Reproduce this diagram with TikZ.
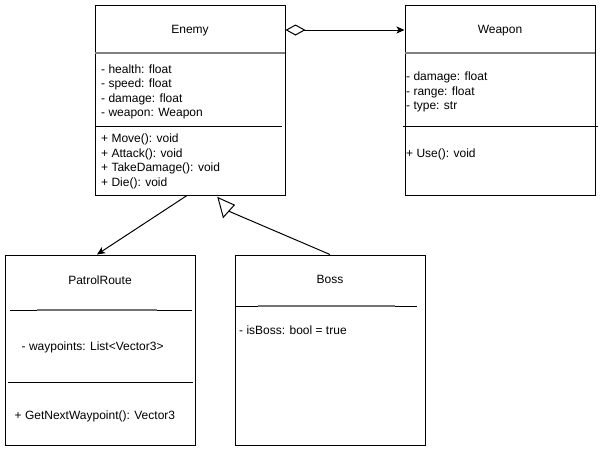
\documentclass[tikz,border=0pt]{standalone}
\usepackage{fontspec}
\setmainfont{Liberation Sans}
\usetikzlibrary{arrows.meta}
\begin{document}
\begin{tikzpicture}[x=1pt,y=-1pt,
  classbox/.style={draw=black, line width=1pt, fill=white, minimum width=190pt, minimum height=190pt, inner sep=0pt},
  title/.style={anchor=base, inner sep=0pt, font=\fontsize{12}{14}\selectfont},
  member/.style={anchor=base west, inner sep=0pt, font=\fontsize{12}{14}\selectfont},
  headline/.style={draw=black!50, line width=1.6pt},
  sepline/.style={draw=black, line width=1pt},
  greyover/.style={draw=black!55, line width=1.3pt},
  conn/.style={draw=black, line width=1pt},
  filledtip/.style={-{Stealth[length=8pt,width=7pt,inset=2pt]}},
  hollowtri/.style={draw=black, line width=1pt, fill=white, line join=miter}
]
\useasboundingbox (0,0) rectangle (603,451);
\fill[white] (0,0) rectangle (603,451);

% boxes
\node[classbox] (enemy) at (190,100) {};
\node[classbox] (weapon) at (500,100) {};
\node[classbox] (patrol) at (100,350) {};
\node[classbox] (boss) at (330,350) {};

% Enemy
\node[title] (enemyT) at (190,33.5) {Enemy};
\draw[headline] (95,53) -- (285,53);
\node[member] (e1) at (101,73) {- health: float};
\node[member] (e2) at (101,87.5) {- speed: float};
\node[member] (e3) at (101,102) {- damage: float};
\node[member] (e4) at (101,116.5) {- weapon: Weapon};
\draw[sepline] (95,126) -- (282,126);
\node[member] (e5) at (101,142.5) {+ Move(): void};
\node[member] (e6) at (101,157) {+ Attack(): void};
\node[member] (e7) at (101,171.5) {+ TakeDamage(): void};
\node[member] (e8) at (101,186) {+ Die(): void};

% Weapon
\node[title] (weaponT) at (500,33.5) {Weapon};
\draw[headline] (405,53) -- (595,53);
\node[member] (w1) at (406,80.5) {- damage: float};
\node[member] (w2) at (406,95) {- range: float};
\node[member] (w3) at (406,109.5) {- type: str};
\draw[sepline] (403,126) -- (598,126);
\node[member] (w4) at (406,157.5) {+ Use(): void};

% PatrolRoute
\node[title] (patrolT) at (100,284) {PatrolRoute};
\draw[sepline] (10,310) -- (192,310);
\draw[greyover] (37,310) -- (157,310);
\node[member] (p1) at (21.5,350) {- waypoints: List<Vector3>};
\draw[sepline] (8,382) -- (193,382);
\node[member] (p2) at (14.5,419) {+ GetNextWaypoint(): Vector3};

% Boss
\node[title] (bossT) at (330,283.5) {Boss};
\draw[sepline] (235,306) -- (417,306);
\draw[greyover] (258,306) -- (395,306);
\node[member] (b1) at (239,334.5) {- isBoss: bool = true};

% connectors
\draw[conn, {Diamond[open,length=20pt,width=11pt]}-{Stealth[length=8pt,width=7pt,inset=2pt]}]
  ([yshift=70pt]enemy.east) -- ([yshift=70pt]weapon.west);
\draw[conn, filledtip] ([xshift=-3pt]enemy.south) -- ([xshift=-3pt]patrol.north);
% generalisation Boss -> Enemy (hollow triangle)
\coordinate (inhEnd) at (228.8,211.2);
\draw[conn] (boss.north) -- (inhEnd);
\draw[hollowtri] (218,197.7) -- (234.3,205) -- (223.3,217.3) -- cycle;
\end{tikzpicture}
\end{document}
